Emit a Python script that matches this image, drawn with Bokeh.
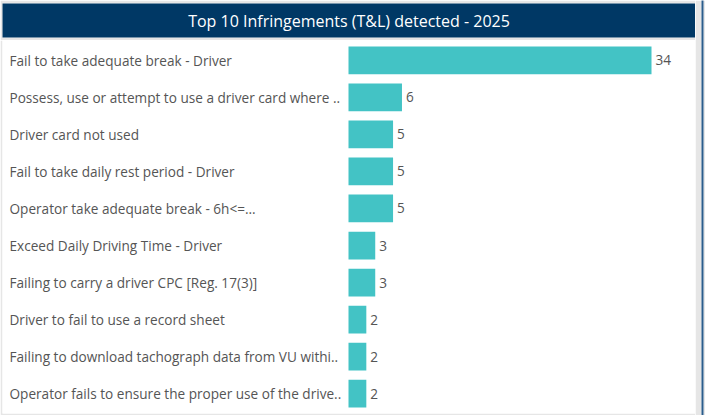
from bokeh.plotting import figure
from bokeh.layouts import column, row
from bokeh.models import ColumnDataSource, FactorRange, Range1d
from bokeh.core.properties import value
from bokeh.embed import file_html
from bokeh.resources import INLINE

title_text = "Top 10 Infringements (T&L) detected - 2025"
categories = [
    "Fail to take adequate break - Driver",
    "Possess, use or attempt to use a driver card where ..",
    "Driver card not used",
    "Fail to take daily rest period - Driver",
    "Operator take adequate break - 6h<=...",
    "Exceed Daily Driving Time - Driver",
    "Failing to carry a driver CPC [Reg. 17(3)]",
    "Driver to fail to use a record sheet",
    "Failing to download tachograph data from VU withi..",
    "Operator fails to ensure the proper use of the drive..",
]
counts = [34, 6, 5, 5, 5, 3, 3, 2, 2, 2]

NAVY = "#003865"
GRAY = "#e6e6e6"
TEAL = "#43c3c5"
TXT = "#555555"
FONT = "Open Sans"

# ---- title band ----
top = figure(width=695, height=40, x_range=Range1d(0, 1), y_range=Range1d(0, 1),
             toolbar_location=None, output_backend="svg",
             x_axis_location=None, y_axis_location=None,
             min_border_left=2, min_border_right=0, min_border_top=3, min_border_bottom=3,
             background_fill_color=NAVY, border_fill_color=GRAY, outline_line_color=None)
top.grid.visible = False
top.text(x=[0.5], y=[0.5], text=[title_text], text_align="center", text_baseline="middle",
         text_color="white", text_font=value(FONT), text_font_size="16px")

# ---- bar chart ----
ppu = 303 / 34.0          # pixels per unit
bar_left_px = 346         # where zero sits inside the frame
frame_w = 693
src = ColumnDataSource(dict(cat=categories, count=counts, lab=[str(c) for c in counts]))

p = figure(width=695, height=375,
           y_range=FactorRange(factors=categories[::-1], range_padding=0.008),
           x_range=Range1d(-bar_left_px / ppu, (frame_w - bar_left_px) / ppu),
           toolbar_location=None, output_backend="svg",
           x_axis_location=None, y_axis_location=None,
           min_border_left=2, min_border_right=0, min_border_top=0, min_border_bottom=2,
           background_fill_color="white", border_fill_color=GRAY, outline_line_color=None)
p.grid.visible = False
p.hbar(y="cat", left=0, right="count", height=0.75, color=TEAL, line_color=None, source=src)
p.text(x=0, y="cat", text="cat", x_offset=-(bar_left_px - 7), text_align="left",
       text_baseline="middle", text_color=TXT, text_font=value(FONT),
       text_font_size="13.6px", source=src)
p.text(x="count", y="cat", text="lab", x_offset=4, text_align="left",
       text_baseline="middle", text_color=TXT, text_font=value(FONT),
       text_font_size="13.6px", source=src)

# ---- right edge strip ----
strip = figure(width=10, height=415, x_range=Range1d(0, 1), y_range=Range1d(0, 1),
               toolbar_location=None, output_backend="svg",
               x_axis_location=None, y_axis_location=None,
               min_border_left=6, min_border_right=2, min_border_top=0, min_border_bottom=0,
               background_fill_color="#2b5d8c", border_fill_color=GRAY, outline_line_color=None)
strip.grid.visible = False

layout = row(column(top, p, spacing=0), strip, spacing=0)
open("out.html", "w").write(file_html(layout, INLINE))
